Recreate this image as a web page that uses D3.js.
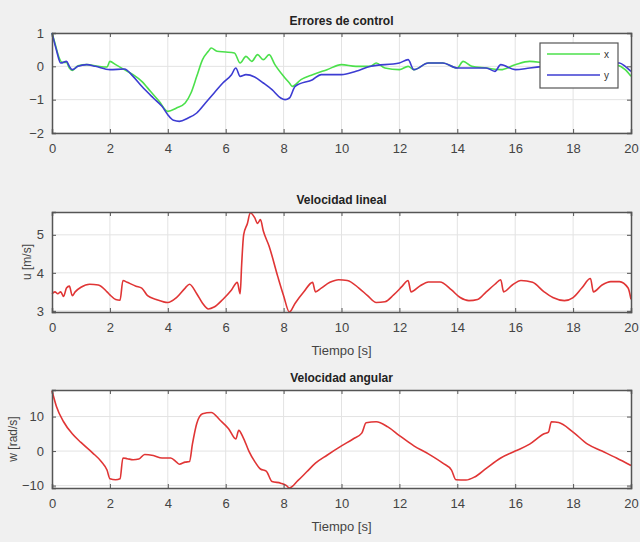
<!DOCTYPE html>
<html>
<head>
<meta charset="utf-8">
<script src="https://cdn.jsdelivr.net/npm/d3@7"></script>
<style>
  body { margin: 0; background: #f0f0f0; }
  text { font-family: "Liberation Sans", Arial, sans-serif; }
</style>
</head>
<body>
<div id="chart"></div>
<script>
// time axis
var xTicks = [0, 2, 4, 6, 8, 10, 12, 14, 16, 18, 20];

// Errores de control, x
var errXTime = [0, 0.1, 0.25, 0.35, 0.5, 0.6, 0.7, 0.9, 1.2, 1.6, 1.9, 2.0, 2.2, 2.5, 2.8, 3.1, 3.4, 3.7, 4.0, 4.3, 4.6, 4.8, 5.0, 5.2, 5.4, 5.5, 5.7, 6.0, 6.3, 6.5, 6.7, 6.9, 7.1, 7.3, 7.5, 7.7, 8.0, 8.2, 8.3, 8.6, 9.0, 9.5, 10.0, 10.5, 11.0, 11.2, 11.5, 12.0, 12.3, 12.5, 13.0, 13.5, 14.0, 14.2, 14.5, 15.0, 15.5, 16.0, 16.5, 17.0, 17.5, 18.0, 18.5, 19.0, 19.5, 19.8, 20];
var errXVal  = [1.0, 0.7, 0.25, 0.12, 0.12, -0.05, -0.12, 0.02, 0.05, 0.0, -0.02, 0.15, 0.05, -0.1, -0.25, -0.45, -0.75, -1.05, -1.35, -1.25, -1.1, -0.8, -0.3, 0.2, 0.45, 0.55, 0.45, 0.43, 0.4, 0.1, 0.3, 0.15, 0.35, 0.2, 0.35, 0.05, -0.3, -0.5, -0.6, -0.4, -0.25, -0.1, 0.05, 0.0, 0.0, 0.1, -0.05, -0.1, 0.0, -0.1, 0.1, 0.1, -0.05, 0.15, 0.0, -0.05, -0.1, 0.05, 0.15, 0.1, 0.05, 0.0, 0.05, 0.1, 0.05, -0.1, -0.3];

// Errores de control, y
var errYTime = [0, 0.15, 0.3, 0.5, 0.6, 0.7, 0.9, 1.2, 1.5, 2.0, 2.5, 2.8, 3.1, 3.5, 3.8, 4.0, 4.2, 4.4, 4.7, 5.0, 5.3, 5.6, 5.9, 6.2, 6.35, 6.5, 6.7, 7.0, 7.3, 7.6, 7.9, 8.05, 8.2, 8.4, 9.0, 9.3, 10.0, 10.5, 11.0, 12.0, 12.3, 12.5, 13.0, 13.5, 14.0, 15.0, 15.3, 15.5, 16.0, 16.5, 17.0, 17.5, 18.0, 18.5, 19.0, 19.6, 19.8, 20];
var errYVal  = [1.0, 0.5, 0.1, 0.15, 0.0, -0.1, 0.0, 0.05, 0.0, -0.1, -0.08, -0.3, -0.6, -0.95, -1.2, -1.45, -1.62, -1.65, -1.55, -1.4, -1.1, -0.8, -0.5, -0.25, -0.05, -0.3, -0.25, -0.32, -0.5, -0.7, -0.95, -1.0, -0.95, -0.6, -0.4, -0.25, -0.25, -0.15, 0.0, 0.1, 0.2, -0.1, 0.1, 0.1, -0.05, -0.05, -0.15, 0.05, -0.1, -0.05, 0.0, 0.05, 0.1, 0.05, 0.1, 0.1, 0.0, -0.15];

// Velocidad lineal
var uTime = [0, 0.1, 0.2, 0.3, 0.4, 0.5, 0.6, 0.7, 0.8, 1.0, 1.3, 1.6, 1.9, 2.0, 2.2, 2.35, 2.45, 2.6, 2.9, 3.1, 3.3, 3.6, 4.0, 4.3, 4.6, 4.75, 5.0, 5.2, 5.4, 5.6, 5.9, 6.2, 6.4, 6.5, 6.55, 6.62, 6.75, 6.85, 7.0, 7.1, 7.2, 7.3, 7.5, 7.8, 8.0, 8.2, 8.4, 8.7, 9.0, 9.1, 9.3, 9.6, 9.9, 10.2, 10.6, 10.9, 11.2, 11.5, 11.8, 12.1, 12.3, 12.4, 12.7, 13.0, 13.4, 13.8, 14.1, 14.4, 14.7, 15.0, 15.3, 15.5, 15.6, 15.9, 16.2, 16.6, 17.0, 17.3, 17.7, 18.0, 18.3, 18.6, 18.7, 19.0, 19.3, 19.6, 19.9, 20];
var uVal  = [3.45, 3.5, 3.45, 3.5, 3.38, 3.6, 3.65, 3.4, 3.5, 3.62, 3.7, 3.68, 3.5, 3.42, 3.3, 3.28, 3.8, 3.75, 3.65, 3.6, 3.4, 3.3, 3.22, 3.35, 3.6, 3.7, 3.45, 3.2, 3.05, 3.1, 3.3, 3.55, 3.75, 3.45, 4.2, 5.0, 5.3, 5.58, 5.45, 5.3, 5.4, 5.1, 4.7, 3.9, 3.4, 2.97, 3.2, 3.5, 3.75, 3.5, 3.6, 3.75, 3.82, 3.8, 3.6, 3.4, 3.22, 3.24, 3.42, 3.65, 3.8, 3.5, 3.65, 3.76, 3.76, 3.55, 3.35, 3.27, 3.3, 3.5, 3.7, 3.82, 3.5, 3.68, 3.8, 3.75, 3.5, 3.35, 3.27, 3.35, 3.6, 3.85, 3.5, 3.68, 3.77, 3.77, 3.6, 3.3];

// Velocidad angular
var wTime = [0, 0.15, 0.4, 0.7, 1.0, 1.4, 1.7, 1.9, 2.0, 2.2, 2.35, 2.45, 2.6, 2.8, 3.0, 3.2, 3.5, 3.8, 4.1, 4.3, 4.4, 4.6, 4.75, 4.85, 5.0, 5.2, 5.5, 5.8, 6.1, 6.35, 6.45, 6.6, 6.8, 7.0, 7.2, 7.4, 7.6, 7.9, 8.1, 8.2, 8.5, 8.8, 9.1, 9.5, 10.0, 10.4, 10.7, 10.85, 11.2, 11.6, 12.0, 12.5, 13.0, 13.5, 13.8, 13.95, 14.3, 14.6, 15.0, 15.5, 16.0, 16.5, 17.0, 17.15, 17.25, 17.5, 18.0, 18.5, 19.0, 19.5, 20];
var wVal  = [17.5, 13, 8.5, 5, 2.5, -0.5, -3, -5.5, -8, -8.3, -8, -2, -2.2, -2.5, -2.3, -1, -1.3, -2, -2, -3.2, -3.8, -3.2, -3, 2, 8, 10.8, 11.2, 9, 6.5, 3.5, 6, 4, 0, -3, -5.2, -5.8, -8.8, -9.3, -10, -10.7, -8.5, -6, -3.5, -1.2, 1.5, 3.5, 5.2, 8.2, 8.5, 7, 4.5, 1.5, -0.8, -3.5, -5.5, -8.3, -8.4, -7.5, -5, -2, 0, 2, 5, 5.5, 8.5, 8.3, 5.5, 2, 0, -2, -4.2];

var svgWidth = 640;
var svgHeight = 542;

var svg = d3.select("#chart")
  .append("svg")
  .attr("width", svgWidth)
  .attr("height", svgHeight);

svg.append("rect")
  .attr("width", svgWidth)
  .attr("height", svgHeight)
  .attr("fill", "#f0f0f0");

var left = 52, right = 631;

function panel(opts) {
  var x = d3.scaleLinear().domain([0, 20]).range([left, right]);
  var y = d3.scaleLinear().domain(opts.yDomain).range([opts.bottom, opts.top]);
  var g = svg.append("g");

  g.append("rect")
    .attr("x", left).attr("y", opts.top)
    .attr("width", right - left).attr("height", opts.bottom - opts.top)
    .attr("fill", "white");

  // grid
  g.selectAll(".vgrid").data(xTicks.slice(1, -1)).enter().append("line")
    .attr("x1", d => x(d)).attr("x2", d => x(d))
    .attr("y1", opts.top).attr("y2", opts.bottom)
    .attr("stroke", "#e3e3e3");
  g.selectAll(".hgrid").data(opts.yTicks).enter().append("line")
    .attr("x1", left).attr("x2", right)
    .attr("y1", d => y(d)).attr("y2", d => y(d))
    .attr("stroke", "#e3e3e3");

  // lines
  opts.series.forEach(function(s) {
    var pts = s.t.map((t, i) => [t, s.v[i]]);
    g.append("path")
      .datum(pts)
      .attr("fill", "none")
      .attr("stroke", s.color)
      .attr("stroke-width", 1.6)
      .attr("stroke-linejoin", "round")
      .attr("d", d3.line().curve(d3.curveMonotoneX).x(d => x(d[0])).y(d => y(d[1])));
  });

  // axes (ticks inside, box)
  var fmt = d3.format("d");
  var bottomAxis = d3.axisBottom(x).tickValues(xTicks).tickSize(-4).tickPadding(11).tickFormat(fmt);
  var topAxis = d3.axisTop(x).tickValues(xTicks).tickSize(-4).tickFormat("");
  var leftAxis = d3.axisLeft(y).tickValues(opts.yTicks).tickSize(-4).tickPadding(8).tickFormat(fmt);
  var rightAxis = d3.axisRight(y).tickValues(opts.yTicks).tickSize(-4).tickFormat("");

  [[bottomAxis, `translate(0,${opts.bottom})`],
   [topAxis, `translate(0,${opts.top})`],
   [leftAxis, `translate(${left},0)`],
   [rightAxis, `translate(${right},0)`]].forEach(function(a) {
    var ax = g.append("g").attr("transform", a[1]).call(a[0]);
    ax.select(".domain").attr("stroke", "#555").attr("stroke-width", 1.5);
    ax.selectAll(".tick line").attr("stroke", "#555");
    ax.selectAll("text").attr("font-size", 13).attr("fill", "#444");
  });

  g.append("text")
    .attr("x", (left + right) / 2)
    .attr("y", opts.top - 8)
    .attr("text-anchor", "middle")
    .attr("font-size", 12)
    .attr("font-weight", "bold")
    .attr("fill", "#222")
    .text(opts.title);

  if (opts.ylabel) {
    g.append("text")
      .attr("transform", `translate(${opts.ylabelX}, ${(opts.top + opts.bottom) / 2}) rotate(-90)`)
      .attr("text-anchor", "middle")
      .attr("font-size", 12)
      .attr("fill", "#444")
      .text(opts.ylabel);
  }
  if (opts.xlabel) {
    g.append("text")
      .attr("x", (left + right) / 2)
      .attr("y", opts.bottom + 43)
      .attr("text-anchor", "middle")
      .attr("font-size", 13)
      .attr("fill", "#444")
      .text(opts.xlabel);
  }
  return {x: x, y: y, g: g};
}

panel({
  top: 33, bottom: 133, yDomain: [-2, 1], yTicks: [-2, -1, 0, 1],
  title: "Errores de control",
  series: [
    {t: errXTime, v: errXVal, color: "#4be04b"},
    {t: errYTime, v: errYVal, color: "#3c3cd2"}
  ]
});

// legend
var legend = svg.append("g");
legend.append("rect")
  .attr("x", 540).attr("y", 43).attr("width", 78).attr("height", 45)
  .attr("fill", "white").attr("stroke", "#555").attr("stroke-width", 1.2);
[["x", "#4be04b", 54], ["y", "#3c3cd2", 75]].forEach(function(l) {
  legend.append("line")
    .attr("x1", 547).attr("x2", 600).attr("y1", l[2]).attr("y2", l[2])
    .attr("stroke", l[1]).attr("stroke-width", 1.6);
  legend.append("text")
    .attr("x", 604).attr("y", l[2] + 4)
    .attr("font-size", 10).attr("fill", "#333")
    .text(l[0]);
});

panel({
  top: 212, bottom: 312, yDomain: [2.97, 5.6], yTicks: [3, 4, 5],
  title: "Velocidad lineal",
  ylabel: "u [m/s]", ylabelX: 31,
  xlabel: "Tiempo [s]",
  series: [{t: uTime, v: uVal, color: "#e03535"}]
});

panel({
  top: 390, bottom: 488, yDomain: [-10.7, 17.7], yTicks: [-10, 0, 10],
  title: "Velocidad angular",
  ylabel: "w [rad/s]", ylabelX: 17,
  xlabel: "Tiempo [s]",
  series: [{t: wTime, v: wVal, color: "#e03535"}]
});
</script>
</body>
</html>
